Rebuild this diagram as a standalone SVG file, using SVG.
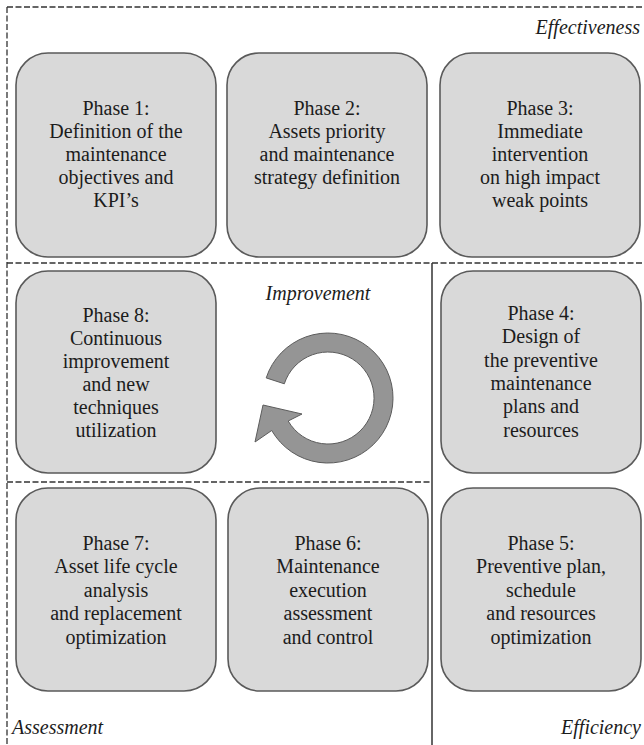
<svg xmlns="http://www.w3.org/2000/svg" width="644" height="745" viewBox="0 0 644 745">
  <style>
    .phase rect { fill: #d9d9d9; stroke: #5a5a5a; stroke-width: 1.6; }
    .phase text { font-family: "Liberation Serif", "Times New Roman", serif; font-size: 20px; fill: #1c1c1c; text-anchor: middle; }
    .zone { font-family: "Liberation Serif", "Times New Roman", serif; font-size: 20px; font-style: italic; fill: #1c1c1c; }
    .dash { fill: none; stroke: #333; stroke-width: 1.3; stroke-dasharray: 6 2.5; }
    .solid { fill: none; stroke: #333; stroke-width: 1.5; }
  </style>

  <rect width="644" height="745" fill="#ffffff"/>

  <!-- region borders -->
  <g id="connectors">
    <path class="dash" d="M7,7 H644"/>
    <path class="dash" d="M7,7 V745"/>
    <path class="dash" d="M7,263 H644"/>
    <path class="dash" d="M7,482 H432"/>
    <path class="solid" d="M432,263 V745"/>
  </g>

  <!-- region titles -->
  <text class="zone" x="640" y="34" text-anchor="end">Effectiveness</text>
  <text class="zone" x="318" y="300" text-anchor="middle">Improvement</text>
  <text class="zone" x="12" y="734">Assessment</text>
  <text class="zone" x="641" y="734" text-anchor="end">Efficiency</text>

  <g id="phase1" class="phase">
    <rect x="16" y="53" width="200" height="204" rx="32"/>
    <text x="116" y="115">Phase 1:</text>
    <text x="116" y="138">Definition of the</text>
    <text x="116" y="161">maintenance</text>
    <text x="116" y="184">objectives and</text>
    <text x="116" y="207">KPI’s</text>
  </g>

  <g id="phase2" class="phase">
    <rect x="227" y="53" width="200" height="204" rx="32"/>
    <text x="327" y="115">Phase 2:</text>
    <text x="327" y="138">Assets priority</text>
    <text x="327" y="161">and maintenance</text>
    <text x="327" y="184">strategy definition</text>
  </g>

  <g id="phase3" class="phase">
    <rect x="440" y="53" width="200" height="204" rx="32"/>
    <text x="540" y="115">Phase 3:</text>
    <text x="540" y="138">Immediate</text>
    <text x="540" y="161">intervention</text>
    <text x="540" y="184">on high impact</text>
    <text x="540" y="207">weak points</text>
  </g>

  <g id="phase4" class="phase">
    <rect x="441" y="271" width="200" height="202" rx="32"/>
    <text x="541" y="320">Phase 4:</text>
    <text x="541" y="343">Design of</text>
    <text x="541" y="367">the preventive</text>
    <text x="541" y="390">maintenance</text>
    <text x="541" y="413">plans and</text>
    <text x="541" y="437">resources</text>
  </g>

  <g id="phase5" class="phase">
    <rect x="441" y="488" width="200" height="203" rx="32"/>
    <text x="541" y="550">Phase 5:</text>
    <text x="541" y="573">Preventive plan,</text>
    <text x="541" y="597">schedule</text>
    <text x="541" y="620">and resources</text>
    <text x="541" y="644">optimization</text>
  </g>

  <g id="phase6" class="phase">
    <rect x="228" y="488" width="200" height="203" rx="32"/>
    <text x="328" y="550">Phase 6:</text>
    <text x="328" y="573">Maintenance</text>
    <text x="328" y="597">execution</text>
    <text x="328" y="620">assessment</text>
    <text x="328" y="644">and control</text>
  </g>

  <g id="phase7" class="phase">
    <rect x="16" y="488" width="200" height="203" rx="32"/>
    <text x="116" y="550">Phase 7:</text>
    <text x="116" y="573">Asset life cycle</text>
    <text x="116" y="597">analysis</text>
    <text x="116" y="620">and replacement</text>
    <text x="116" y="644">optimization</text>
  </g>

  <g id="phase8" class="phase">
    <rect x="16" y="271" width="200" height="202" rx="32"/>
    <text x="116" y="322">Phase 8:</text>
    <text x="116" y="345">Continuous</text>
    <text x="116" y="368">improvement</text>
    <text x="116" y="391">and new</text>
    <text x="116" y="414">techniques</text>
    <text x="116" y="437">utilization</text>
  </g>

  <!-- circular improvement arrow -->
  <g id="cycle">
    <path d="M266.2,377.9 A65,65 0 1 1 271.7,430.5 L255,442 L263,405 L302,414 L288.2,421 A46,46 0 1 0 284.3,383.8 Z"
          fill="#959595" stroke="#5c5c5c" stroke-width="1"/>
  </g>
</svg>
